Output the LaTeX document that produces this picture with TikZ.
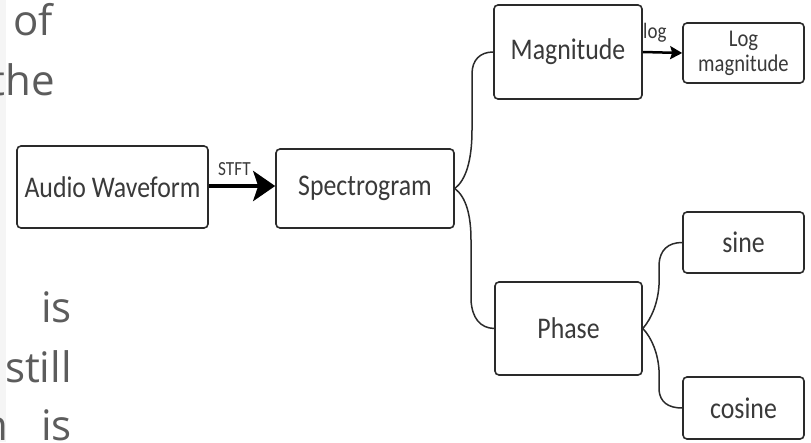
\documentclass[tikz,border=0pt]{standalone}
\usepackage{graphicx}
\usepackage{fontspec}
\setmainfont{Carlito}
\newfontfamily\bodyfont{Open Sans}
\usetikzlibrary{arrows.meta}
\definecolor{edgecol}{HTML}{2A2A2A}
\definecolor{labelcol}{HTML}{3A3A3A}
\definecolor{pagecol}{HTML}{5C5C5C}
% narrow setting of the diagram labels
\newcommand\narrow[1]{\scalebox{0.86}[1]{#1}}
\tikzset{
  stage/.style={draw=edgecol, line width=1.6pt, rounded corners=4pt,
    fill=white, inner sep=0pt, text=labelcol, align=center,
    font=\fontsize{30}{34}\selectfont},
  smallstage/.style={stage, font=\fontsize{24}{25}\selectfont},
  branch/.style={draw=edgecol, line width=1.5pt},
  flow/.style={draw=black, line cap=butt},
  pageline/.style={inner sep=0pt, text=pagecol,
    font=\bodyfont\fontsize{42}{48}\selectfont},
  edgelabel/.style={inner sep=0pt, text=labelcol}
}
\begin{document}
\begin{tikzpicture}[x=1pt, y=-1pt]
\useasboundingbox (0,0) rectangle (811,442);
\clip (0,0) rectangle (811,442);
\fill[white] (0,0) rectangle (811,442);
\fill[black!4] (0,0) rectangle (6,442);

% surrounding page text
\node[pageline, anchor=base west] (p1) at (13,35) {of};
\node[pageline, anchor=base east] (p2) at (55,95) {the};
\node[pageline, anchor=base east] (p3a) at (3,322) {n};
\node[pageline, anchor=base east] (p3) at (72,322) {is};
\node[pageline, anchor=base east] (p4) at (72,382) {still};
\node[pageline, anchor=base east] (p5a) at (8,440) {n};
\node[pageline, anchor=base east] (p5) at (72,440) {is};

% processing stages
\node[stage, minimum width=191pt, minimum height=82pt] (aw) at (112.5,187) {\narrow{Audio Waveform}};
\node[stage, minimum width=178pt, minimum height=79pt] (sp) at (365,188.5) {\narrow{Spectrogram}};
\node[stage, minimum width=148pt, minimum height=94pt] (mag) at (568,52) {\narrow{Magnitude}};
\node[smallstage, minimum width=121pt, minimum height=60pt] (logm) at (743.5,53) {\narrow{Log}\\\narrow{magnitude}};
\node[stage, minimum width=147pt, minimum height=93pt] (ph) at (568.5,328.5) {\narrow{Phase}};
\node[stage, minimum width=121pt, minimum height=61pt] (sin) at (743.5,242.5) {\narrow{sine}};
\node[stage, minimum width=121pt, minimum height=62pt] (cos) at (743.5,408) {\narrow{cosine}};

% transforms
\draw[flow, line width=4pt, -{Stealth[length=22pt, width=30pt, inset=5pt]}]
  (aw.east |- 0,186) -- (sp.west |- 0,186);
\node[edgelabel, anchor=base west, font=\fontsize{20}{22}\selectfont] (stft) at (218,175) {\narrow{STFT}};
\draw[flow, line width=2.5pt, -{Stealth[length=12pt, width=13pt, inset=2pt]}]
  (mag.east) -- (logm.west);
\node[edgelabel, anchor=base west, font=\fontsize{22}{24}\selectfont] (lg) at (643,38) {\narrow{log}};

% brace-like splits
\draw[branch] (sp.east) .. controls (466,180) and (472,160) .. (472,130)
  -- (472,74) .. controls (472,60) and (480,52) .. (mag.west);
\draw[branch] (sp.east) .. controls (466,197) and (471,215) .. (471,240)
  -- (471,300) .. controls (472,318) and (480,328) .. (ph.west);
\draw[branch] (ph.east) .. controls (652,318) and (658,302) .. (659,285)
  -- (659,264) .. controls (660,250) and (668,242.5) .. (sin.west);
\draw[branch] (ph.east) .. controls (652,338) and (658,354) .. (659,370)
  -- (659,390) .. controls (660,402) and (668,408) .. (cos.west);
\end{tikzpicture}
\end{document}
